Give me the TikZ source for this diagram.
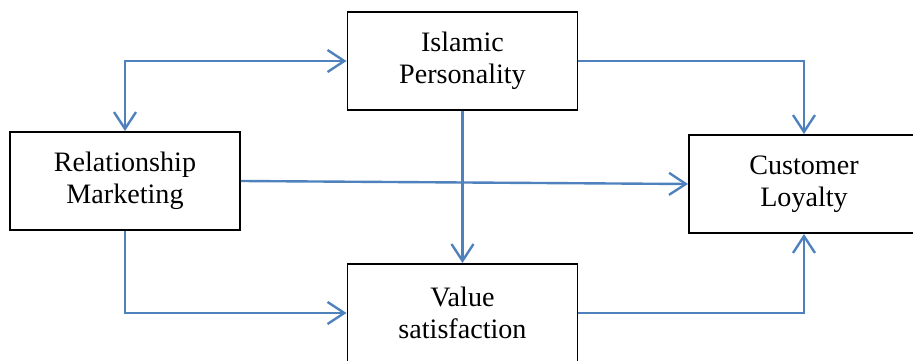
\documentclass[tikz,border=0pt]{standalone}
\usepackage{fontspec}
\setmainfont{Liberation Serif}
\usetikzlibrary{arrows.meta}

\definecolor{linkblue}{RGB}{79,129,189}

\begin{document}
\begin{tikzpicture}[
    box/.style={draw=black,line width=1.4pt,minimum width=5.75cm,minimum height=2.45cm,
      align=center,font=\fontsize{20}{22.8}\selectfont},
    link/.style={linkblue,line width=1.7pt,{Straight Barb[length=0.42cm,width=0.55cm]}-{Straight Barb[length=0.42cm,width=0.55cm]}},
    tolink/.style={linkblue,line width=1.7pt,-{Straight Barb[length=0.42cm,width=0.55cm]}}
  ]
  \useasboundingbox (0,0) rectangle (22.825,9);

  \node[box] (islamic) at (11.5625,7.475) {Islamic\\Personality};
  \node[box] (relation) at (3.125,4.475) {Relationship\\Marketing};
  \node[box] (loyalty) at (20.1,4.4) {Customer\\Loyalty};
  \node[box] (value) at (11.5625,1.175) {Value\\satisfaction};

  \draw[link] (relation.north) |- (islamic.west);
  \draw[tolink] (islamic.east) -| (loyalty.north);
  \draw[tolink] (islamic.south) -- (value.north);
  \draw[tolink] (relation.east) -- (loyalty.west);
  \draw[tolink] (relation.south) |- (value.west);
  \draw[tolink] (value.east) -| (loyalty.south);
\end{tikzpicture}
\end{document}
